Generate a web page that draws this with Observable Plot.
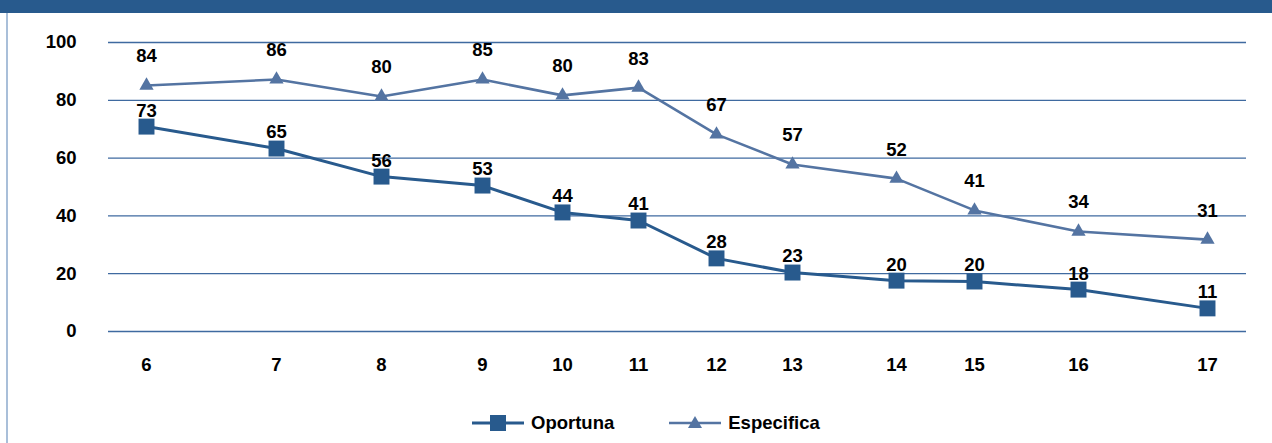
<!DOCTYPE html>
<html>
<head>
<meta charset="utf-8">
<script src="https://cdn.jsdelivr.net/npm/d3@7"></script>
<script src="https://cdn.jsdelivr.net/npm/@observablehq/plot@0.6"></script>
<style>
  html, body { margin: 0; padding: 0; background: #fff; }
  #wrap { position: relative; width: 1272px; height: 443px; overflow: hidden; font-family: "Liberation Sans", Arial, sans-serif; }
  #topbar { height: 13px; background: #285a8d; }
  #leftline { position: absolute; left: 6px; top: 13px; bottom: 0; width: 2px; background: #a9bfd9; }
  #legend { display: flex; align-items: center; margin-left: 472px; margin-top: 20px; height: 20px; font-weight: bold; font-size: 18.5px; color: #000; }
  #legend .item { display: flex; align-items: center; }
  #legend .item span { margin-left: 7px; }
</style>
</head>
<body>
<div id="wrap">
  <div id="topbar"></div>
  <div id="leftline"></div>
  <div id="chart"></div>
  <div id="legend"></div>
</div>
<script>
// Categories along the horizontal axis and their (uneven) placement along it
const categories = ["6", "7", "8", "9", "10", "11", "12", "13", "14", "15", "16", "17"];
const slot = [38, 168, 273, 374, 454, 530, 608, 684, 788, 866, 970, 1099];

// Series: plotted values and their printed labels
const oportuna = [70.9, 63.3, 53.6, 50.5, 41.2, 38.4, 25.3, 20.4, 17.6, 17.3, 14.5, 8.0];
const oportunaLabels = [73, 65, 56, 53, 44, 41, 28, 23, 20, 20, 18, 11];
const especifica = [85.1, 87.2, 81.3, 87.2, 81.7, 84.4, 68.2, 57.8, 52.9, 41.9, 34.6, 31.8];
const especificaLabels = [84, 86, 80, 85, 80, 83, 67, 57, 52, 41, 34, 31];

const yTicks = [0, 20, 40, 60, 80, 100];
const seriesNames = ["Oportuna", "Especifica"];

const C_OP = "#285a8d";
const C_ES = "#5474a2";
const GRID = "#3f6aa0";
const FS = 18.5;

const opData = categories.map((c, i) => ({cat: c, x: slot[i], y: oportuna[i], label: oportunaLabels[i]}));
const esData = categories.map((c, i) => ({cat: c, x: slot[i], y: especifica[i], label: especificaLabels[i]}));

const chart = Plot.plot({
  width: 1272,
  height: 380,
  marginLeft: 108,
  marginRight: 26,
  marginTop: 29,
  marginBottom: 62,
  style: {fontFamily: "'Liberation Sans', Arial, sans-serif", fontSize: FS + "px", fontWeight: "bold", color: "#000", background: "transparent"},
  x: {type: "linear", domain: [0, 1138]},
  y: {domain: [0, 100]},
  marks: [
    Plot.ruleY(yTicks, {stroke: GRID, strokeWidth: 1.3}),
    Plot.axisY({ticks: yTicks, tickSize: 0, tickPadding: 32, label: null, fill: "#000", fontSize: FS}),
    Plot.axisX({ticks: slot, tickFormat: (d) => categories[slot.indexOf(d)], tickSize: 0, tickPadding: 26, label: null, fill: "#000", fontSize: FS}),
    Plot.line(esData, {x: "x", y: "y", stroke: C_ES, strokeWidth: 2.6}),
    Plot.dot(esData, {x: "x", y: "y", symbol: "triangle", r: 5.3, fill: C_ES, stroke: null}),
    Plot.line(opData, {x: "x", y: "y", stroke: C_OP, strokeWidth: 3}),
    Plot.dot(opData, {x: "x", y: "y", symbol: "square", r: 9, fill: C_OP, stroke: null}),
    Plot.text(opData, {x: "x", y: "y", text: "label", dy: -16, fill: "#000", fontWeight: "bold", fontSize: FS}),
    Plot.text(esData, {x: "x", y: "y", text: "label", dy: -29, fill: "#000", fontWeight: "bold", fontSize: FS})
  ]
});
document.getElementById("chart").appendChild(chart);

// Legend (HTML, below the SVG)
const legend = d3.select("#legend");
const swatch = (sel, color, shape, width) => {
  const s = sel.append("svg").attr("width", 52).attr("height", 20);
  s.append("line").attr("x1", 0).attr("x2", 52).attr("y1", 10).attr("y2", 10).attr("stroke", color).attr("stroke-width", width);
  if (shape === "square") {
    s.append("rect").attr("x", 18).attr("y", 2).attr("width", 16).attr("height", 16).attr("fill", color);
  } else {
    s.append("path").attr("d", "M26,3 L33,15 L19,15 Z").attr("fill", color);
  }
};
const it1 = legend.append("div").attr("class", "item");
swatch(it1, C_OP, "square", 3);
it1.append("span").text(seriesNames[0]);
const it2 = legend.append("div").attr("class", "item").style("margin-left", "55px");
swatch(it2, C_ES, "triangle", 2.6);
it2.append("span").text(seriesNames[1]);
</script>
</body>
</html>
